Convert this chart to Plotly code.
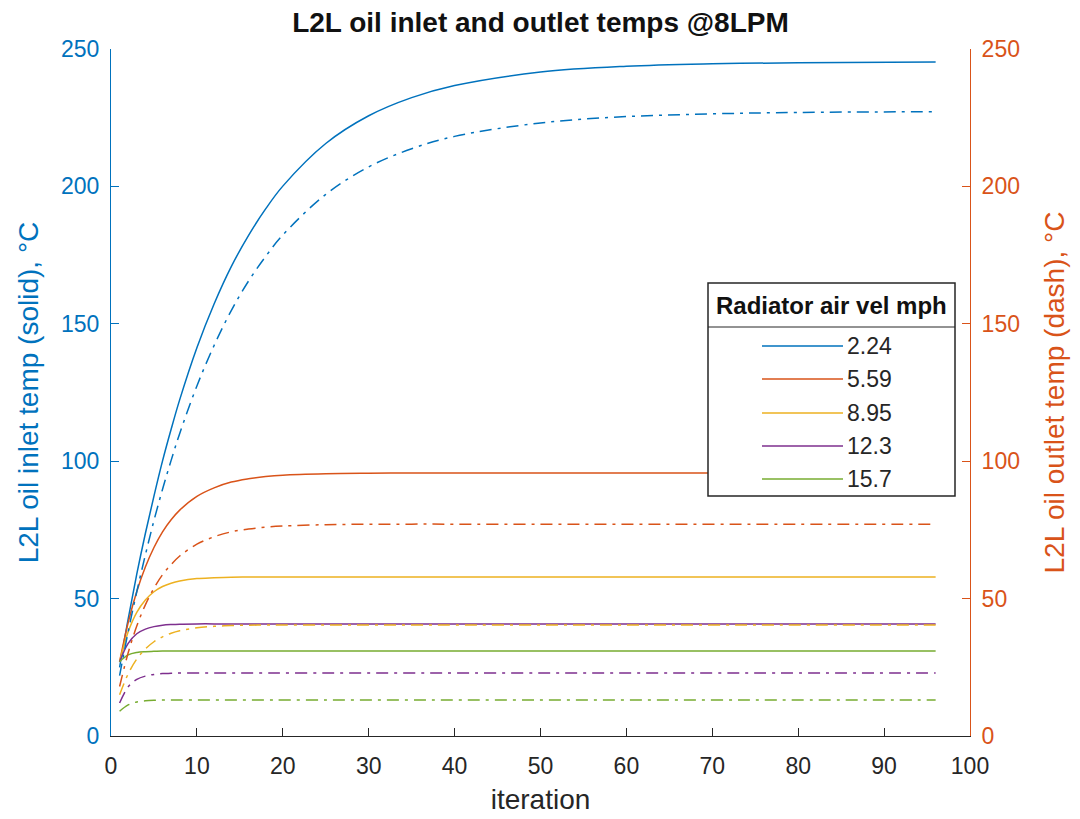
import plotly.graph_objects as go

# Iteration numbers at which the temperatures were sampled
iterations = [1, 2, 3, 4, 5, 6, 7, 8, 10, 12, 14, 16, 18, 20, 25, 30, 35, 40, 50, 60, 70, 80, 96]

# Radiator air velocity (mph) for each run
air_vel = ["2.24", "5.59", "8.95", "12.3", "15.7"]

# Oil inlet temperature, deg C (solid lines, left axis)
inlet_224 = [25.0, 42.6, 58.9, 73.7, 87.3, 100.1, 111.6, 122.4, 141.3, 157.2, 170.8, 182.1, 191.8,
             200.1, 215.6, 225.7, 232.3, 236.7, 241.6, 243.7, 244.6, 245.0, 245.3]
inlet_559 = [27.0, 41.3, 52.6, 61.5, 68.6, 74.3, 78.7, 82.2, 87.2, 90.3, 92.4, 93.6, 94.4,
             94.9, 95.4, 95.6, 95.7, 95.7, 95.7, 95.7, 95.7, 95.7, 95.7]
inlet_895 = [27.0, 37.9, 45.0, 49.5, 52.5, 54.4, 55.6, 56.4, 57.3, 57.6, 57.8, 57.85, 57.9,
             57.9, 57.9, 57.9, 57.9, 57.9, 57.9, 57.9, 57.9, 57.9, 57.9]
inlet_123 = [27.0, 33.7, 37.2, 38.9, 39.8, 40.3, 40.55, 40.7, 40.8, 40.8, 40.8, 40.8, 40.8,
             40.8, 40.8, 40.8, 40.8, 40.8, 40.8, 40.8, 40.8, 40.8, 40.8]
inlet_157 = [27.0, 29.5, 30.4, 30.7, 30.8, 30.9, 30.9, 30.9, 30.9, 30.9, 30.9, 30.9, 30.9,
             30.9, 30.9, 30.9, 30.9, 30.9, 30.9, 30.9, 30.9, 30.9, 30.9]

# Oil outlet temperature, deg C (dash-dot lines, right axis)
outlet_224 = [22.0, 38.0, 52.5, 65.9, 78.4, 89.8, 100.3, 110.1, 127.4, 142.1, 154.8, 165.5, 174.5,
              182.3, 197.1, 207.1, 213.7, 218.2, 223.1, 225.4, 226.4, 226.9, 227.2]
outlet_559 = [18.0, 30.3, 40.0, 47.7, 53.8, 58.7, 62.4, 65.5, 69.8, 72.5, 74.3, 75.3, 76.0,
              76.4, 76.9, 77.05, 77.1, 77.1, 77.1, 77.1, 77.1, 77.1, 77.1]
outlet_895 = [15.0, 22.6, 28.0, 31.7, 34.3, 36.1, 37.4, 38.3, 39.4, 39.9, 40.2, 40.3, 40.4,
              40.4, 40.4, 40.4, 40.4, 40.4, 40.4, 40.4, 40.4, 40.4, 40.4]
outlet_123 = [12.0, 17.9, 20.6, 21.8, 22.4, 22.7, 22.8, 22.9, 22.9, 22.9, 22.9, 22.9, 22.9,
              22.9, 22.9, 22.9, 22.9, 22.9, 22.9, 22.9, 22.9, 22.9, 22.9]
outlet_157 = [9.0, 11.3, 12.4, 12.8, 13.0, 13.1, 13.1, 13.1, 13.1, 13.1, 13.1, 13.1, 13.1,
              13.1, 13.1, 13.1, 13.1, 13.1, 13.1, 13.1, 13.1, 13.1, 13.1]

inlet = [inlet_224, inlet_559, inlet_895, inlet_123, inlet_157]
outlet = [outlet_224, outlet_559, outlet_895, outlet_123, outlet_157]

colors = ["#0072BD", "#D95319", "#EDB120", "#7E2F8E", "#77AC30"]
LEFT_C = "#0072BD"
RIGHT_C = "#D95319"
AXIS_C = "#262626"
FONT = "Liberation Sans, Arial, sans-serif"
DASHDOT = "12px,6px,3px,6px"

# Plot-area geometry in pixels (figure is 1080 x 819)
W, H = 1080, 819
PL, PR, PT, PB = 111, 970, 49, 736


def px(xp):
    return (xp - PL) / (PR - PL)


def py(yp):
    return (PB - yp) / (PB - PT)


fig = go.Figure()

for vel, ys, c in zip(air_vel, inlet, colors):
    fig.add_trace(go.Scatter(
        x=iterations, y=ys, name=vel, mode="lines",
        line=dict(color=c, width=1.5, shape="spline"),
        yaxis="y", showlegend=False,
    ))

for vel, ys, c in zip(air_vel, outlet, colors):
    fig.add_trace(go.Scatter(
        x=iterations, y=ys, name=vel + " outlet", mode="lines",
        line=dict(color=c, width=1.5, shape="spline", dash=DASHDOT),
        yaxis="y2", showlegend=False,
    ))

axis_common = dict(
    showgrid=False, zeroline=False, showline=True, linewidth=1,
    ticks="inside", ticklen=8, tickwidth=1, automargin=False,
)

# Boxed legend with a bold header row and a rule under it
LG_X0, LG_X1, LG_Y0, LG_Y1, LG_RULE = 708, 955, 283, 496, 327
shapes = [
    dict(type="rect", xref="paper", yref="paper",
         x0=px(LG_X0), x1=px(LG_X1), y0=py(LG_Y1), y1=py(LG_Y0),
         line=dict(color=AXIS_C, width=1.5), fillcolor="white", layer="above"),
    dict(type="line", xref="paper", yref="paper",
         x0=px(LG_X0), x1=px(LG_X1), y0=py(LG_RULE), y1=py(LG_RULE),
         line=dict(color=AXIS_C, width=1), layer="above"),
]
annotations = [
    dict(text="<b>Radiator air vel mph</b>", xref="paper", yref="paper",
         x=px((LG_X0 + LG_X1) / 2), y=py(305), xanchor="center", yanchor="middle",
         showarrow=False, font=dict(size=24, color="#111111", family=FONT)),
]
row_y = [346, 379, 413, 446, 479]
for vel, c, ry in zip(air_vel, colors, row_y):
    shapes.append(dict(type="line", xref="paper", yref="paper",
                       x0=px(762), x1=px(843), y0=py(ry), y1=py(ry),
                       line=dict(color=c, width=1.5), layer="above"))
    annotations.append(dict(text=vel, xref="paper", yref="paper",
                            x=px(845), y=py(ry), xanchor="left", yanchor="middle",
                            showarrow=False, font=dict(size=23, color=AXIS_C, family=FONT)))

fig.update_layout(
    width=W, height=H,
    margin=dict(l=PL, r=W - PR, t=PT, b=H - PB),
    paper_bgcolor="white", plot_bgcolor="white",
    font=dict(family=FONT, color=AXIS_C),
    showlegend=False,
    title=dict(
        text="<b>L2L oil inlet and outlet temps @8LPM</b>",
        x=0.5, xref="paper", xanchor="center",
        y=1 - 22 / H, yref="container", yanchor="middle",
        font=dict(size=28, color="#111111", family=FONT),
    ),
    xaxis=dict(
        range=[0, 100], dtick=10, tick0=0,
        linecolor=AXIS_C, tickcolor=AXIS_C,
        tickfont=dict(size=23, color=AXIS_C),
        ticklabelstandoff=9,
        title=dict(text="iteration", font=dict(size=28, color=AXIS_C), standoff=11),
        **axis_common,
    ),
    yaxis=dict(
        range=[0, 250], dtick=50, tick0=0,
        linecolor=LEFT_C, tickcolor=LEFT_C,
        tickfont=dict(size=23, color=LEFT_C),
        ticklabelstandoff=6,
        title=dict(text="L2L oil inlet temp (solid), °C", font=dict(size=28, color=LEFT_C), standoff=14),
        **axis_common,
    ),
    yaxis2=dict(
        range=[0, 250], dtick=50, tick0=0,
        overlaying="y", side="right",
        linecolor=RIGHT_C, tickcolor=RIGHT_C,
        tickfont=dict(size=23, color=RIGHT_C),
        ticklabelstandoff=6,
        title=dict(text="L2L oil outlet temp (dash), °C", font=dict(size=28, color=RIGHT_C), standoff=25),
        **axis_common,
    ),
    shapes=shapes,
    annotations=annotations,
)

fig.write_html("out.html")
